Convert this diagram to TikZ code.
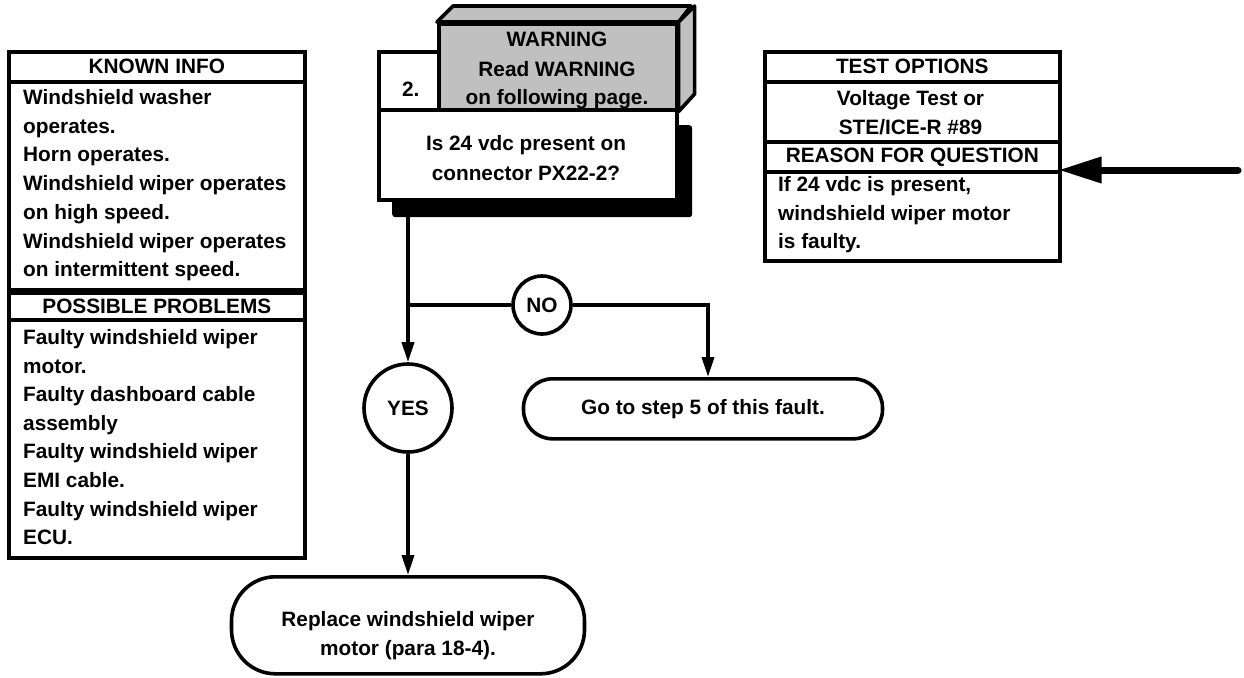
\documentclass[tikz,border=0pt]{standalone}
\usepackage{fontspec}
\setmainfont{Liberation Sans}
\usetikzlibrary{arrows.meta}
\definecolor{boxgray}{RGB}{192,192,192}
\tikzset{
  frame/.style={draw, line width=3.6pt, fill=white, inner sep=0pt, anchor=north west},
  txt/.style={font=\bfseries\fontsize{20.8}{24}\selectfont, inner sep=0pt},
  conn/.style={line width=3.6pt},
  arr/.style={-{Triangle[length=20pt,width=12pt]}},
  bigarr/.style={line width=7pt, line cap=round, -{Triangle[length=43pt,width=25pt]}},
  bubble/.style={circle, draw, line width=3.6pt, fill=white, inner sep=0pt},
  term/.style={draw, line width=3.6pt, fill=white, inner sep=0pt, align=center}
}
\begin{document}
\begin{tikzpicture}[x=1pt,y=-1pt]
\useasboundingbox[fill=white] (0,0) rectangle (1244,677);

% ---------- KNOWN INFO / POSSIBLE PROBLEMS ----------
\node[frame, minimum width=296, minimum height=30] (kt) at (7,50) {};
\node[txt] (ktt) at (kt.center) {KNOWN INFO};
\node[frame, minimum width=296, minimum height=208] (kb) at (7,80) {};
\node[frame, minimum width=296, minimum height=27] (pt) at (7,291) {};
\node[txt] (ptt) at (pt.center) {POSSIBLE PROBLEMS};
\node[frame, minimum width=296, minimum height=238] (pb) at (7,318) {};
\foreach [count=\i] \t in {{Windshield washer},{operates.},{Horn operates.},{Windshield wiper operates},{on high speed.},{Windshield wiper operates},{on intermittent speed.}}
  \node[txt, anchor=base west] (ki\i) at ({23},{104.5+28.7*(\i-1)}) {\t};
\foreach [count=\i] \t in {{Faulty windshield wiper},{motor.},{Faulty dashboard cable},{assembly},{Faulty windshield wiper},{EMI cable.},{Faulty windshield wiper},{ECU.}}
  \node[txt, anchor=base west] (pp\i) at ({23},{344.5+28.6*(\i-1)}) {\t};

% ---------- TEST OPTIONS / REASON ----------
\node[frame, minimum width=295, minimum height=30] (tt) at (763,50) {};
\node[txt] (ttt) at (tt.center) {TEST OPTIONS};
\node[frame, minimum width=295, minimum height=60] (tb) at (763,80) {};
\node[txt, anchor=base] (to1) at (910.5,105) {Voltage Test or};
\node[txt, anchor=base] (to2) at (910.5,134) {STE/ICE-R \#89};
\node[frame, minimum width=295, minimum height=30] (rt) at (763,140) {};
\node[txt] (rtt) at (rt.center) {REASON FOR QUESTION};
\node[frame, minimum width=295, minimum height=89] (rb) at (763,170) {};
\node[txt, anchor=base west] (rq1) at (778,191) {If 24 vdc is present,};
\node[txt, anchor=base west] (rq2) at (778,220) {windshield wiper motor};
\node[txt, anchor=base west] (rq3) at (778,248) {is faulty.};

\coordinate (arrstart) at (1238,170);
\draw[bigarr, shorten >=-3pt] (arrstart) -- (rb.north east);

% ---------- decision box ----------
\node[fill=black, rounded corners=3pt, minimum width=300, minimum height=92, inner sep=0pt, anchor=north west] (shadow) at (392,125) {};
\node[frame, minimum width=298, minimum height=90] (q) at (377,108) {};
\node[txt, anchor=base] (q1) at (526,150) {Is 24 vdc present on};
\node[txt, anchor=base] (q2) at (526,180) {connector PX22-2?};
\node[frame, minimum width=60, minimum height=58] (num) at (377,50) {};
\node[txt] (numt) at ([xshift=2pt,yshift=-8pt]num.center) {2.};
\node[frame, fill=boxgray, minimum width=238, minimum height=86] (warn) at (437,22) {};
\draw[line width=3.6pt, fill=boxgray, line join=round] (warn.north west) -- ++(16,-16) -- ++(238,0) -- (warn.north east) -- cycle;
\draw[line width=3.6pt, fill=boxgray, line join=round] (warn.north east) -- ++(16,-16) -- ++(0,88) -- (warn.south east) -- cycle;
\node[txt, anchor=base] (w1) at (557,47) {WARNING};
\node[txt, anchor=base] (w2) at (557,77) {Read WARNING};
\node[txt, anchor=base] (w3) at (557,104) {on following page.};

% ---------- outcomes ----------
\node[bubble, minimum size=58] (no) at (542,305) {};
\node[txt] (not) at (no.center) {NO};
\node[bubble, minimum size=88] (yes) at (408,408) {};
\node[txt] (yest) at (yes.center) {YES};
\node[term, rounded corners=29pt, minimum width=359, minimum height=60, anchor=north] (go) at (703,377) {};
\node[txt] (got) at (go.center) {Go to step 5 of this fault.};
\node[term, rounded corners=44pt, minimum width=353, minimum height=97, anchor=north] (rep) at (408,575) {};
\node[txt, anchor=base] (rep1) at (408,626) {Replace windshield wiper};
\node[txt, anchor=base] (rep2) at (408,655) {motor (para 18-4).};

\coordinate (qout) at ([xshift=16pt]shadow.south west);
\coordinate (br) at (408,305);
\coordinate (godrop) at (708,377);
\draw[conn, arr] (qout) -- (yes.north);
\draw[conn] (br) -- (no.west);
\draw[conn, arr] (no.east) -| (godrop);
\draw[conn, arr] (yes.south) -- (rep.north);
\end{tikzpicture}
\end{document}
